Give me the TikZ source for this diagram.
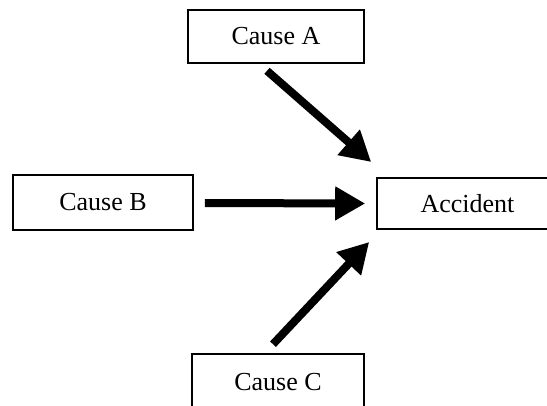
\documentclass[tikz,border=0pt]{standalone}
\usepackage{fontspec}
\setmainfont{Liberation Serif}
\usetikzlibrary{arrows.meta,calc}
\begin{document}
\begin{tikzpicture}[x=1pt,y=-1pt,
  box/.style={draw, line width=1.6pt, inner sep=0pt,
    font=\fontsize{26}{30}\selectfont},
  bigarrow/.style={line width=8pt,
    -{Triangle[length=30pt,width=32pt]}}]
\useasboundingbox (0,0) rectangle (547,405);
\clip (0,0) rectangle (547,405);

% the three causes and the outcome
\node[box, minimum width=176pt, minimum height=53pt] (causeA) at (276,36.5) {Cause A};
\node[box, minimum width=180pt, minimum height=55pt] (causeB) at (103,202.5) {Cause B};
\node[box, minimum width=181pt, minimum height=51pt] (accident) at (467.5,203.5) {Accident};
\node[box, minimum width=172pt, minimum height=56pt] (causeC) at (278,382) {Cause C};

% free ends of the thick arrows, placed next to the boxes
\coordinate (a0) at ($(causeA.south)+(-9,7)$);
\coordinate (a1) at ($(accident.west)+(-5,-41.5)$);
\coordinate (b0) at ($(causeB.east)+(11,0.5)$);
\coordinate (b1) at ($(accident.west)+(-11,0)$);
\coordinate (c0) at ($(causeC.north)+(-5,-9)$);
\coordinate (c1) at ($(accident.west)+(-7,38.5)$);

\draw[bigarrow] (a0) -- (a1);
\draw[bigarrow] (b0) -- (b1);
\draw[bigarrow] (c0) -- (c1);
\end{tikzpicture}
\end{document}
